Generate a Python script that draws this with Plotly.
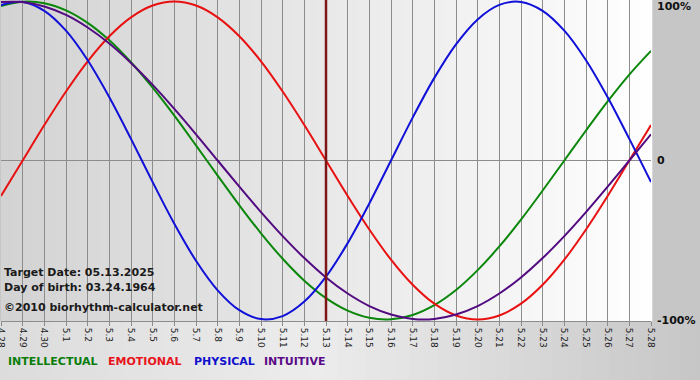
import plotly.graph_objects as go

# ---- data ----
dates = ["4.28", "4.29", "4.30", "5.1", "5.2", "5.3", "5.4", "5.5", "5.6", "5.7", "5.8",
         "5.9", "5.10", "5.11", "5.12", "5.13", "5.14", "5.15", "5.16", "5.17", "5.18",
         "5.19", "5.20", "5.21", "5.22", "5.23", "5.24", "5.25", "5.26", "5.27", "5.28"]

intellectual = [0.972, 0.999, 0.990, 0.945, 0.866, 0.756, 0.618, 0.458, 0.282, 0.095, -0.095,
                -0.282, -0.458, -0.618, -0.756, -0.866, -0.945, -0.990, -0.999, -0.972, -0.910,
                -0.815, -0.690, -0.541, -0.372, -0.189, 0.000, 0.189, 0.372, 0.541, 0.690]
emotional = [-0.223, 0.000, 0.223, 0.434, 0.624, 0.782, 0.901, 0.975, 1.000, 0.975, 0.901,
             0.782, 0.624, 0.434, 0.223, 0.000, -0.223, -0.434, -0.624, -0.782, -0.901,
             -0.975, -1.000, -0.975, -0.901, -0.782, -0.624, -0.434, -0.223, 0.000, 0.223]
physical = [0.979, 0.998, 0.942, 0.817, 0.631, 0.398, 0.136, -0.136, -0.398, -0.631, -0.817,
            -0.942, -0.998, -0.979, -0.888, -0.731, -0.520, -0.270, 0.000, 0.270, 0.520,
            0.731, 0.888, 0.979, 0.998, 0.942, 0.817, 0.631, 0.398, 0.136, -0.136]
intuitive = [0.997, 0.997, 0.969, 0.916, 0.837, 0.736, 0.614, 0.476, 0.325, 0.165, 0.000,
             -0.165, -0.325, -0.476, -0.614, -0.736, -0.837, -0.916, -0.969, -0.997, -0.997,
             -0.969, -0.916, -0.837, -0.736, -0.614, -0.476, -0.325, -0.165, 0.000, 0.165]

series_names = ["INTELLECTUAL", "EMOTIONAL", "PHYSICAL", "INTUITIVE"]
target_label = "5.13"
y_tick_vals = [1, 0, -1]
y_tick_text = ["100%", "0", "-100%"]
info_lines = ["Target Date: 05.13.2025", "Day of birth: 03.24.1964",
              "\u00a92010 biorhythm-calculator.net"]

# ---- styles ----
line_colors = ["#0a870a", "#e81010", "#1010d8", "#520a80"]
text_colors = ["#0a7d0a", "#e8141c", "#1010cc", "#5a0a86"]
FONT = "DejaVu Sans"
PLOT_W = 650.0
PLOT_H = 321.0

x = list(range(len(dates)))
series = [intellectual, emotional, physical, intuitive]

fig = go.Figure()
for name, vals, col in zip(series_names, series, line_colors):
    fig.add_trace(go.Scatter(x=x, y=vals, mode="lines", name=name,
                             line=dict(color=col, width=2, shape="spline", smoothing=1.0),
                             hoverinfo="skip", showlegend=False))

shapes = []


def hexmix(c0, c1, t):
    return "#%02x%02x%02x" % tuple(int(round(a + (b - a) * t)) for a, b in zip(c0, c1))


# plot-area horizontal gradient
n = 60
for i in range(n):
    t = i / (n - 1)
    shapes.append(dict(type="rect", xref="paper", yref="paper", x0=i / n, x1=(i + 1) / n + 0.002,
                       y0=0, y1=1, fillcolor=hexmix((0xd3, 0xd3, 0xd3), (0xfe, 0xfe, 0xfe), t),
                       line_width=0, layer="below"))
# bottom band gradient (below plot)
m = 50
for i in range(m):
    t = i / (m - 1)
    if t < 0.45:
        c = hexmix((0xdc, 0xdc, 0xdc), (0xec, 0xec, 0xec), t / 0.45)
    else:
        c = hexmix((0xec, 0xec, 0xec), (0xc6, 0xc6, 0xc6), (t - 0.45) / 0.55)
    shapes.append(dict(type="rect", xref="paper", yref="paper", x0=-0.01 + i * 1.1 / m,
                       x1=-0.01 + (i + 1) * 1.1 / m + 0.002, y0=-0.3, y1=0,
                       fillcolor=c, line_width=0, layer="below"))

# target date line
shapes.append(dict(type="line", xref="x", yref="paper", x0=dates.index(target_label),
                   x1=dates.index(target_label), y0=0, y1=1,
                   line=dict(color="#7e1616", width=2.5), layer="above"))

annotations = []
for v, t in zip(y_tick_vals, y_tick_text):
    annotations.append(dict(x=1, xref="paper", y=v, yref="y", text="<b>%s</b>" % t,
                            showarrow=False, xanchor="left", xshift=4,
                            yshift=-5 if v == 1 else (-1 if v == -1 else 0),
                            font=dict(family=FONT, size=11, color="#111111")))

# info text block (pixel rows measured from top of plot area)
info_rows = [272.5, 287, 307]
for line, row in zip(info_lines, info_rows):
    annotations.append(dict(x=0, xref="paper", y=1 - row / PLOT_H, yref="paper",
                            text="<b>%s</b>" % line, showarrow=False, xanchor="left",
                            yanchor="middle", xshift=1,
                            font=dict(family=FONT, size=11, color="#1a1a1a")))

# legend-like colored labels
legend_x = [7, 107, 193, 263]
for name, col, px in zip(series_names, text_colors, legend_x):
    annotations.append(dict(x=px / PLOT_W, xref="paper", y=1 - 361.5 / PLOT_H, yref="paper",
                            text="<b>%s</b>" % name, showarrow=False, xanchor="left",
                            yanchor="middle", xshift=-2,
                            font=dict(family=FONT, size=11, color=col)))

fig.update_layout(
    width=700, height=380,
    margin=dict(l=1, r=49, t=0, b=59, pad=0, autoexpand=False),
    paper_bgcolor="#c6c6c6",
    plot_bgcolor="#e8e8e8",
    shapes=shapes,
    annotations=annotations,
    xaxis=dict(range=[-0.0001, 30.0001], tickvals=x, ticktext=dates, tickangle=90,
               showgrid=True, gridcolor="#8c8c8c", gridwidth=1,
               ticks="outside", ticklen=4, tickcolor="#8c8c8c",
               showline=True, linecolor="#8c8c8c", linewidth=1,
               zeroline=False, fixedrange=True, automargin=False,
               ticklabeloverflow="allow",
               tickfont=dict(family=FONT, size=9, color="#222222")),
    yaxis=dict(range=[-1.01, 1.01], showticklabels=False, showgrid=False,
               zeroline=True, zerolinecolor="#8c8c8c", zerolinewidth=1,
               showline=False, ticks="", fixedrange=True, automargin=False),
    showlegend=False,
)

fig.write_html("out.html", config={"displayModeBar": False},
               post_script="document.body.style.margin='0';document.body.style.padding='0';")
